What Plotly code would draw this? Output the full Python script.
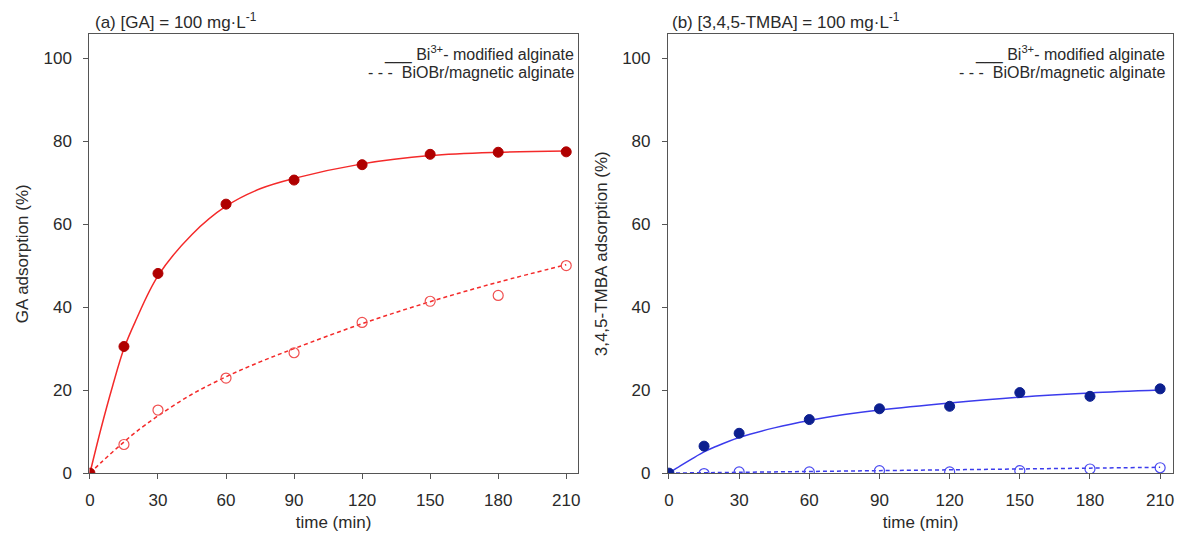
import plotly.graph_objects as go

# measured points
t_pts = [0, 15, 30, 60, 90, 120, 150, 180, 210]
ga_bi = [0, 30.5, 48.1, 64.8, 70.6, 74.3, 76.8, 77.3, 77.4]
ga_biobr = [0, 6.9, 15.2, 22.9, 29.0, 36.3, 41.4, 42.8, 50.0]
tmba_bi = [0, 6.5, 9.6, 12.9, 15.5, 16.1, 19.4, 18.5, 20.3]
tmba_biobr = [0, -0.1, 0.3, 0.3, 0.6, 0.3, 0.6, 1.0, 1.3]

# fitted curves
t_fit = [0, 5, 10, 15, 20, 30, 45, 60, 75, 90, 120, 150, 180, 210]
ga_bi_fit = [0, 11.0, 21.0, 30.0, 36.5, 47.5, 57.5, 64.3, 68.5, 71.0, 74.5, 76.5, 77.3, 77.6]
ga_biobr_fit = [0, 2.6, 5.1, 7.5, 9.8, 13.8, 19.0, 23.2, 26.8, 30.0, 36.0, 41.3, 46.0, 50.2]
tmba_bi_fit = [0, 1.8, 3.5, 5.1, 6.4, 8.6, 10.9, 12.7, 14.1, 15.2, 16.9, 18.3, 19.3, 20.0]
tmba_biobr_fit = [0, 0.03, 0.07, 0.1, 0.13, 0.2, 0.3, 0.4, 0.5, 0.6, 0.8, 1.0, 1.2, 1.4]

x_ticks = [0, 30, 60, 90, 120, 150, 180, 210]
y_ticks = [0, 20, 40, 60, 80, 100]

RED_LINE = "#f42a2a"
RED_DARK = "#b00000"
BLUE_LINE = "#3b3bec"
BLUE_DARK = "#0c1f8f"
FONT = "Liberation Sans, Arial, sans-serif"
TXT = "#2a2a2a"

fig = go.Figure()


def add_panel(xa, ya, fit_a, fit_b, pts_a, pts_b, line_col, dark_col, open_col):
    fig.add_trace(go.Scatter(x=t_fit, y=fit_a, mode="lines",
                             line=dict(color=line_col, width=1.5, shape="spline"),
                             showlegend=False, xaxis=xa, yaxis=ya))
    fig.add_trace(go.Scatter(x=t_fit, y=fit_b, mode="lines",
                             line=dict(color=line_col, width=1.5, dash="4px,3px", shape="spline"),
                             showlegend=False, xaxis=xa, yaxis=ya))
    fig.add_trace(go.Scatter(x=t_pts[1:], y=pts_b[1:], mode="markers",
                             marker=dict(size=10, color="rgba(0,0,0,0)", line=dict(color=open_col, width=1.2)),
                             showlegend=False, xaxis=xa, yaxis=ya))
    fig.add_trace(go.Scatter(x=t_pts, y=pts_a, mode="markers",
                             marker=dict(size=10, color=dark_col, line=dict(color=dark_col, width=1)),
                             showlegend=False, xaxis=xa, yaxis=ya))


add_panel("x", "y", ga_bi_fit, ga_biobr_fit, ga_bi, ga_biobr, RED_LINE, RED_DARK, "#f05050")
add_panel("x2", "y2", tmba_bi_fit, tmba_biobr_fit, tmba_bi, tmba_biobr, BLUE_LINE, BLUE_DARK, "#4a4af0")

axis_common = dict(showline=True, linecolor="#555555", linewidth=1.2, mirror=True, showgrid=False, zeroline=False,
                   ticks="outside", ticklen=5, tickcolor="#555555", tickwidth=1.2,
                   tickfont=dict(size=17, color=TXT, family=FONT))

H = 543
W = 1177
ydom = [(H - 482) / H, (H - 35) / H]
xdom1 = [86 / W, 577 / W]
xdom2 = [668 / W, 1176 / W]

fig.update_layout(
    width=W, height=H,
    margin=dict(l=0, r=0, t=0, b=0),
    paper_bgcolor="white", plot_bgcolor="white",
    font=dict(family=FONT, color=TXT),
    xaxis=dict(domain=xdom1, range=[-0.2, 215], tickvals=x_ticks, ticklabelstandoff=6,
               title=dict(text="time (min)", font=dict(size=17), standoff=7), anchor="y", **axis_common),
    yaxis=dict(domain=ydom, range=[0, 105.7], tickvals=y_ticks, ticklabelstandoff=8,
               title=dict(text="GA adsorption (%)", font=dict(size=17), standoff=10), anchor="x", **axis_common),
    xaxis2=dict(domain=xdom2, range=[-0.4, 215.5], tickvals=x_ticks, ticklabelstandoff=6,
                title=dict(text="time (min)", font=dict(size=17), standoff=7), anchor="y2", **axis_common),
    yaxis2=dict(domain=ydom, range=[0, 105.7], tickvals=y_ticks, ticklabelstandoff=8,
                title=dict(text="3,4,5-TMBA adsorption (%)", font=dict(size=17), standoff=10), anchor="x2",
                **axis_common),
    showlegend=False,
)

# panel titles
fig.add_annotation(text="(a) [GA] = 100 mg·L<sup>-1</sup>", xref="paper", yref="paper",
                   x=(xdom1[0] * W + 4) / W, y=(H - 21) / H, xanchor="left", yanchor="middle",
                   showarrow=False, font=dict(size=17))
fig.add_annotation(text="(b) [3,4,5-TMBA] = 100 mg·L<sup>-1</sup>", xref="paper", yref="paper",
                   x=(xdom2[0] * W + 2) / W, y=(H - 21) / H, xanchor="left", yanchor="middle",
                   showarrow=False, font=dict(size=17))

# legend texts, right aligned inside each panel
legend_lines = ["___ Bi<sup>3+</sup>- modified alginate", "- - -  BiOBr/magnetic alginate"]
legend_y = [(H - 54) / H, (H - 74) / H]
for right_px in [xdom1[1] * W - 2, xdom2[1] * W - 6]:
    for txt, yy in zip(legend_lines, legend_y):
        fig.add_annotation(text=txt, xref="paper", yref="paper", x=right_px / W, y=yy,
                           xanchor="right", yanchor="middle", showarrow=False,
                           font=dict(size=16, color=TXT))

# drop the default page margin so the figure fills the window exactly
fig.write_html("out.html", config={"displayModeBar": False},
               post_script="document.body.style.margin='0';document.body.style.overflow='hidden';")
